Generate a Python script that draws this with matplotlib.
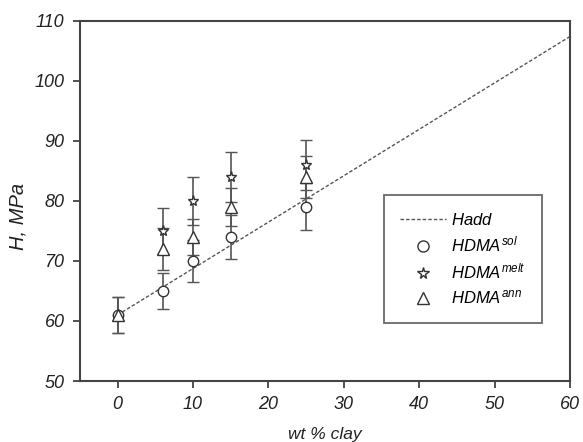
import matplotlib
matplotlib.use("Agg")
import matplotlib.pyplot as plt
from matplotlib.lines import Line2D

plt.rcParams['font.family'] = ['Liberation Sans', 'DejaVu Sans']
plt.rcParams['mathtext.fontset'] = 'custom'
plt.rcParams['mathtext.rm'] = 'Liberation Sans'
plt.rcParams['mathtext.it'] = 'Liberation Sans:italic'

# Data
hadd_x = [0, 60]
hadd_y = [61, 107.4]

sol_x = [0, 6, 10, 15, 25]
sol_y = [61, 65, 70, 74, 79]
sol_err = [3, 3, 3.5, 3.7, 3.9]

melt_x = [6, 10, 15, 25]
melt_y = [75, 80, 84, 86]
melt_err = [3.8, 4, 4.2, 4.2]

ann_x = [0, 6, 10, 15, 25]
ann_y = [61, 72, 74, 79, 84]
ann_err = [3, 3.5, 3, 3.2, 3.5]

xticks = [0, 10, 20, 30, 40, 50, 60]
yticks = [50, 60, 70, 80, 90, 100, 110]

labels = ['$\\mathit{Hadd}$', '$\\mathit{HDMA}^{\\mathit{sol}}$',
          '$\\mathit{HDMA}^{\\mathit{melt}}$', '$\\mathit{HDMA}^{\\mathit{ann}}$']

fig = plt.figure(figsize=(5.83, 4.42), dpi=100)
ax = fig.add_axes([0.137, 0.138, 0.841, 0.815])

dark = '#333333'
ecol = '#555555'
dash = (0, (2.5, 1.5))

ax.plot(hadd_x, hadd_y, ls=dash, color='#555555', lw=1.0)
ax.errorbar(sol_x, sol_y, yerr=sol_err, fmt='o', ms=7.5, mfc='white', mec=dark, mew=1.0,
            ecolor=ecol, elinewidth=1.2, capsize=4, capthick=1.2)
ax.errorbar(melt_x, melt_y, yerr=melt_err, fmt='*', ms=8, mfc='white', mec=dark, mew=1.0,
            ecolor=ecol, elinewidth=1.2, capsize=4, capthick=1.2)
ax.errorbar(ann_x, ann_y, yerr=ann_err, fmt='^', ms=8.5, mfc='white', mec=dark, mew=1.0,
            ecolor=ecol, elinewidth=1.2, capsize=4, capthick=1.2)

ax.set_xlim(-5, 60)
ax.set_ylim(50, 110)
ax.set_xticks(xticks)
ax.set_yticks(yticks)
for lab in ax.get_xticklabels() + ax.get_yticklabels():
    lab.set_fontstyle('italic')
    lab.set_fontsize(13)
    lab.set_color('#222222')
ax.tick_params(direction='out', length=5, width=1.2, color=dark, pad=6)
for s in ax.spines.values():
    s.set_linewidth(1.5)
    s.set_color('#444444')

ax.set_xlabel('wt % clay', fontstyle='italic', fontsize=12.5, color='#222222', labelpad=10)
ax.set_ylabel('H, MPa', fontstyle='italic', fontsize=14.5, color='#222222')
ax.yaxis.set_label_coords(-0.106, 0.456)

handles = [
    Line2D([], [], ls=dash, color='#555555', lw=1.0),
    Line2D([], [], ls='none', marker='o', ms=8, mfc='white', mec=dark, mew=1.0),
    Line2D([], [], ls='none', marker='*', ms=8.5, mfc='white', mec=dark, mew=1.0),
    Line2D([], [], ls='none', marker='^', ms=8.5, mfc='white', mec=dark, mew=1.0),
]
leg = ax.legend(handles, labels, loc='lower right', bbox_to_anchor=(0.943, 0.161), fontsize=12,
                frameon=True, fancybox=False, edgecolor='#444444', handlelength=2.75,
                borderpad=1.0, labelspacing=0.42, handletextpad=0.3, borderaxespad=0)
leg.get_frame().set_linewidth(1.3)

fig.savefig('out.png', dpi=100)
